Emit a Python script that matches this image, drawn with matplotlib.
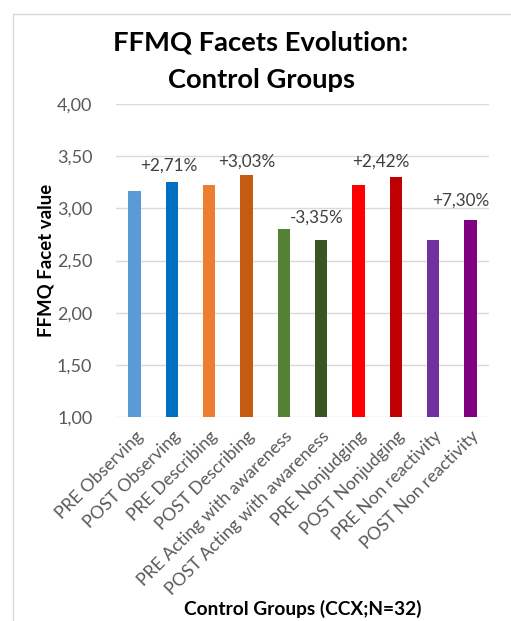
import matplotlib
matplotlib.use("Agg")
import matplotlib.pyplot as plt
from matplotlib.patches import Rectangle

plt.rcParams['font.family'] = ['Lato', 'DejaVu Sans']

categories = ["PRE Observing", "POST Observing", "PRE Describing", "POST Describing",
              "PRE Acting with awareness", "POST Acting with awareness",
              "PRE Nonjudging", "POST Nonjudging", "PRE Non reactivity", "POST Non reactivity"]
values = [3.17, 3.25, 3.22, 3.32, 2.80, 2.70, 3.22, 3.30, 2.70, 2.89]
colors = ["#5B9BD5", "#0070C0", "#ED7D31", "#C55A11", "#548235", "#375623",
          "#FF0000", "#C00000", "#7030A0", "#800080"]
change_labels = ["+2,71%", "+3,03%", "-3,35%", "+2,42%", "+7,30%"]
change_x = [0.92, 3.01, 4.89, 6.60, 8.75]
change_y = [3.41, 3.45, 2.91, 3.45, 3.07]
yticks = [1.0, 1.5, 2.0, 2.5, 3.0, 3.5, 4.0]
ytick_labels = ["1,00", "1,50", "2,00", "2,50", "3,00", "3,50", "4,00"]

W, H = 511, 621
fig = plt.figure(figsize=(W / 100, H / 100), dpi=100)
ax = fig.add_axes([116 / W, 1 - 417 / H, (489 - 116) / W, (417 - 104) / H])

# chart frame
fig.patches.append(Rectangle((13 / W, -0.1), 1.2, 1 - 14 / H + 0.1, transform=fig.transFigure,
                             fill=False, edgecolor="#D9D9D9", linewidth=1.0))

x = list(range(len(categories)))
ax.bar(x, values, width=0.33, color=colors, zorder=3, bottom=0)
ax.set_ylim(1.0, 4.0)
ax.set_xlim(-0.5, len(categories) - 0.5)
ax.set_yticks(yticks)
ax.set_yticklabels(ytick_labels, fontsize=13, color="#595959")
ax.set_xticks(x)
ax.set_xticklabels(categories, rotation=45, ha="right", rotation_mode="anchor",
                   fontsize=12.7, color="#595959")
ax.tick_params(axis="both", length=0)
ax.tick_params(axis="y", pad=17)
ax.tick_params(axis="x", pad=8)
ax.grid(axis="y", color="#D9D9D9", linewidth=1.0, zorder=0)
for s in ax.spines.values():
    s.set_visible(False)

for lab, cx, cy in zip(change_labels, change_x, change_y):
    ax.text(cx, cy, lab, ha="center", va="center", fontsize=12.3, color="#404040")

ax.set_ylabel("FFMQ Facet value", fontsize=13.4, fontweight="bold")
ax.yaxis.set_label_coords((55 - 116) / 373, 0.5)
fig.text(261 / W, 1 - 43 / H, "FFMQ Facets Evolution:", ha="center", va="center",
         fontsize=19.7, fontweight="bold")
fig.text(261 / W, 1 - 80 / H, "Control Groups", ha="center", va="center",
         fontsize=19.7, fontweight="bold")
fig.text(303 / W, 1 - 609 / H, "Control Groups (CCX;N=32)", ha="center", va="center",
         fontsize=13.8, fontweight="bold")

fig.savefig("out.png", dpi=100)
